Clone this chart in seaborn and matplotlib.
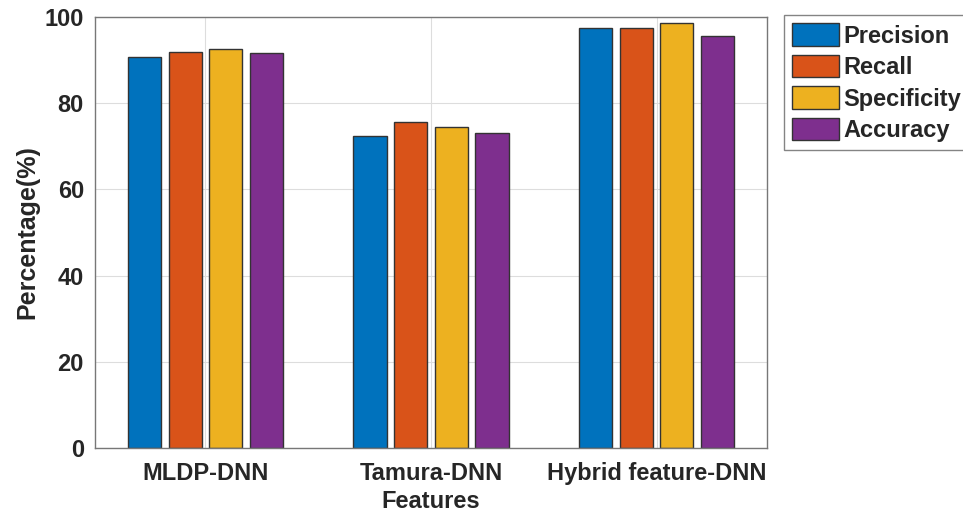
import pandas as pd
import seaborn as sns
import matplotlib.pyplot as plt

features = ["MLDP-DNN", "Tamura-DNN", "Hybrid feature-DNN"]
metrics = ["Precision", "Recall", "Specificity", "Accuracy"]
precision = [90.7, 72.5, 97.4]
recall = [91.8, 75.6, 97.4]
specificity = [92.6, 74.5, 98.5]
accuracy = [91.6, 73.2, 95.6]
colors = ["#0072BD", "#D95319", "#EDB120", "#7E2F8E"]

rows = []
for metric, vals in zip(metrics, [precision, recall, specificity, accuracy]):
    for feat, v in zip(features, vals):
        rows.append({"Features": feat, "Metric": metric, "Value": v})
df = pd.DataFrame(rows)

sns.set_style("white")
plt.rcParams["font.family"] = ["Liberation Sans", "DejaVu Sans"]
plt.rcParams["font.weight"] = "bold"

fig = plt.figure(figsize=(9.63, 5.19), dpi=100)
ax = fig.add_axes([95 / 963, 1 - 448 / 519, (767 - 95) / 963, (448 - 17) / 519])

sns.barplot(data=df, x="Features", y="Value", hue="Metric", order=features,
            hue_order=metrics, palette=colors, width=0.72, gap=0.18,
            edgecolor="#333333", linewidth=1.0, saturation=1, ax=ax)

ax.set_ylim(0, 100)
ax.set_xlim(-0.49, 2.49)
ax.set_yticks([0, 20, 40, 60, 80, 100])
ax.grid(True, color="#dddddd", linewidth=0.8)
ax.set_axisbelow(True)
ax.tick_params(direction="in", labelsize=17, length=4, color="#555555", pad=8)
ax.tick_params(axis="x", pad=10)
for lab in ax.get_xticklabels() + ax.get_yticklabels():
    lab.set_fontweight("bold")
    lab.set_color("#262626")
for s in ax.spines.values():
    s.set_color("#777777")
    s.set_linewidth(1.0)
ax.set_xlabel("Features", fontsize=17, fontweight="bold", color="#262626", labelpad=4)
ax.set_ylabel("Percentage(%)", fontsize=18, fontweight="bold", color="#262626", labelpad=4)

leg = ax.legend(loc="upper left", bbox_to_anchor=(784 / 963, 1 - 15 / 519),
                bbox_transform=fig.transFigure, fontsize=17, frameon=True,
                fancybox=False, edgecolor="#666666", handlelength=2.0,
                handleheight=1.1, labelspacing=0.3, handletextpad=0.15,
                borderpad=0.35, borderaxespad=0)
for t in leg.get_texts():
    t.set_fontweight("bold")

fig.savefig("out.png", dpi=100)
